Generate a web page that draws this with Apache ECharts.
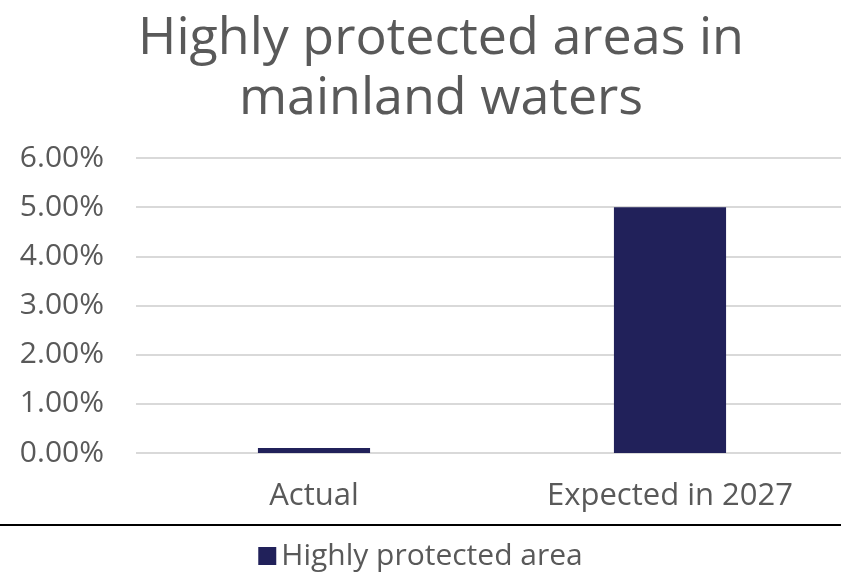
<!DOCTYPE html>
<html><head><meta charset="utf-8">
<script src="https://cdn.jsdelivr.net/npm/echarts@6/dist/echarts.min.js"></script>
<style>html,body{margin:0;padding:0;background:#fff}#c{width:841px;height:573px}</style>
</head><body><div id="c"></div>
<script>
const categories = ["Actual", "Expected in 2027"];
const seriesName = "Highly protected area";
const values = [0.001, 0.05];
const yTicks = [0, 0.01, 0.02, 0.03, 0.04, 0.05, 0.06];

const chart = echarts.init(document.getElementById('c'));
const font = '"Open Sans", Lato, sans-serif';
const grey = '#595959';
chart.setOption({
  animation: false,
  textStyle: { fontFamily: font },
  title: {
    text: "Highly protected areas in\nmainland waters",
    left: 436, textAlign: 'center', top: 4,
    textStyle: { fontSize: 52, fontWeight: 'normal', color: grey, lineHeight: 60, fontFamily: font }
  },
  grid: { left: 136, right: -7, top: 158, bottom: 120, outerBoundsMode: 'none', containLabel: false },
  xAxis: {
    type: 'category', data: categories,
    axisLine: { show: false }, axisTick: { show: false },
    axisLabel: { color: grey, fontSize: 31, margin: 28, fontFamily: font }
  },
  yAxis: {
    type: 'value', min: yTicks[0], max: yTicks[yTicks.length - 1], interval: 0.01,
    axisLabel: { color: grey, fontSize: 30, margin: 32, fontFamily: font,
      formatter: v => (v * 100).toFixed(2) + '%' },
    splitLine: { lineStyle: { color: '#d9d9d9', width: 2 } },
    axisLine: { show: false }, axisTick: { show: false }
  },
  legend: {
    bottom: -3, left: 'center', itemWidth: 18, itemHeight: 18, itemGap: 9,
    icon: 'rect',
    textStyle: { color: grey, fontSize: 30, fontFamily: font }
  },
  graphic: [{
    type: 'line', shape: { x1: 0, y1: 525, x2: 841, y2: 525 },
    style: { stroke: '#000', lineWidth: 2 }
  }],
  series: [{
    type: 'bar', name: seriesName, data: values, barWidth: '31.5%',
    itemStyle: { color: '#21215a' }
  }]
});
</script></body></html>
